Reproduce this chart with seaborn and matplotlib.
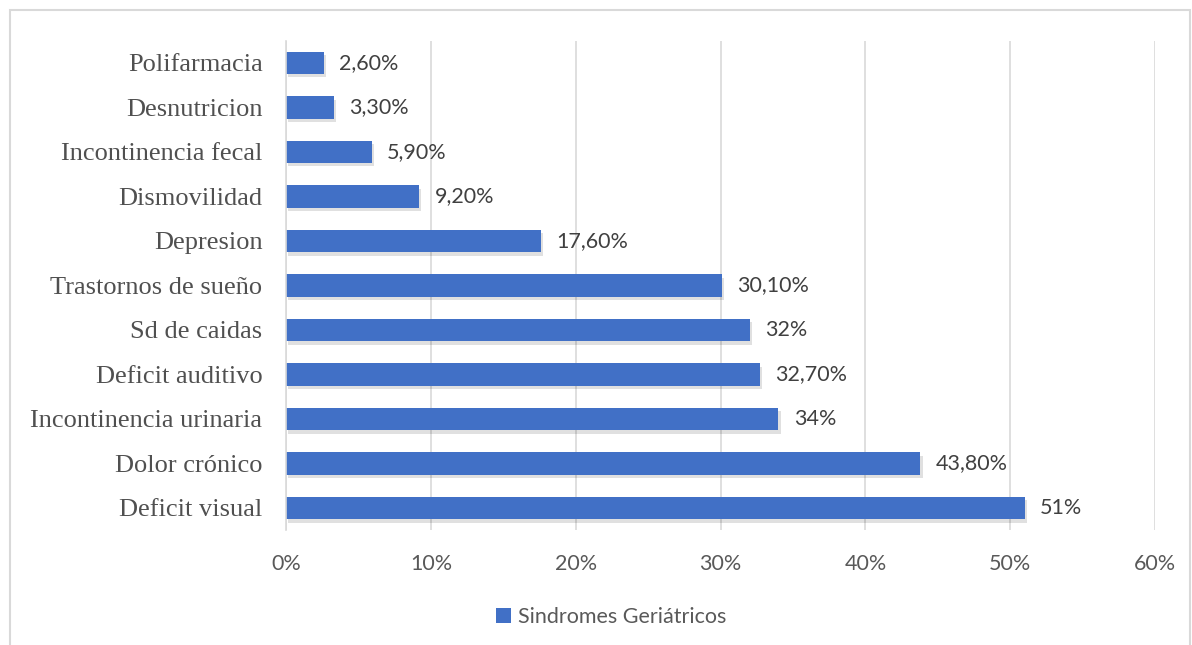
import matplotlib
matplotlib.use("Agg")
import matplotlib.pyplot as plt
import matplotlib.patheffects as pe
from matplotlib.patches import Rectangle
import seaborn as sns
import pandas as pd

categories = [
    "Polifarmacia", "Desnutricion", "Incontinencia fecal", "Dismovilidad",
    "Depresion", "Trastornos de sueño", "Sd de caidas", "Deficit auditivo",
    "Incontinencia urinaria", "Dolor crónico", "Deficit visual",
]
values = [2.6, 3.3, 5.9, 9.2, 17.6, 30.1, 32.0, 32.7, 34.0, 43.8, 51.0]
x_ticks = [0, 10, 20, 30, 40, 50, 60]
series_name = "Sindromes Geriátricos"

BAR = "#4170C6"
GRID = "#d9d9d9"

sns.set_theme(style="white")
plt.rcParams["font.family"] = ["Lato", "DejaVu Sans"]

df = pd.DataFrame({"cat": categories, "val": values})

fig = plt.figure(figsize=(11.92, 6.45), dpi=100)
ax = fig.add_axes([0.240, 0.178, 0.729, 0.759])

sns.barplot(data=df, y="cat", x="val", orient="h", color=BAR,
            saturation=1, width=0.5, ax=ax, label=series_name, zorder=3)

for p in ax.patches:
    p.set_edgecolor("none")
    p.set_path_effects([pe.withSimplePatchShadow(offset=(1.5, -2.5),
                                                 shadow_rgbFace="#000000",
                                                 alpha=0.12), pe.Normal()])

ax.set_xlim(0, 60)
ax.set_ylim(len(categories) - 0.5, -0.5)
ax.set_xticks(x_ticks)
ax.set_xticklabels([f"{t}%" for t in x_ticks], fontsize=15.5, color="#595959")
ax.tick_params(axis="x", length=0, pad=17)
ax.tick_params(axis="y", length=0, pad=17)
for lbl in ax.get_yticklabels():
    lbl.set_fontfamily("Liberation Serif")
    lbl.set_fontsize(19)
    lbl.set_color("#505050")

ax.set_xlabel("")
ax.set_ylabel("")
ax.grid(axis="x", color=GRID, linewidth=1.2, zorder=0)
ax.grid(axis="y", visible=False)
for side in ["top", "right", "bottom"]:
    ax.spines[side].set_visible(False)
ax.spines["left"].set_color(GRID)
ax.spines["left"].set_linewidth(1.2)
ax.spines["left"].set_zorder(4)


def fmt(v):
    if float(v).is_integer():
        return f"{int(v)}%"
    return f"{v:.2f}".replace(".", ",") + "%"


ax.bar_label(ax.containers[0], labels=[fmt(v) for v in values], padding=11,
             fontsize=15.5, color="#404040")

leg = ax.legend(loc="upper center", bbox_to_anchor=(0.374, -0.118), frameon=False,
                fontsize=15.5, handlelength=0.7, handleheight=0.7,
                handletextpad=0.3)
for t in leg.get_texts():
    t.set_color("#595959")
for h in leg.legend_handles:
    h.set_path_effects([])

# chart-area border
fig.patches.append(Rectangle((10 / 1192, -0.05), 1180 / 1192, 1 - 10 / 645 + 0.05,
                             transform=fig.transFigure, fill=False,
                             edgecolor=GRID, linewidth=1.5))

fig.savefig("out.png", dpi=100)
